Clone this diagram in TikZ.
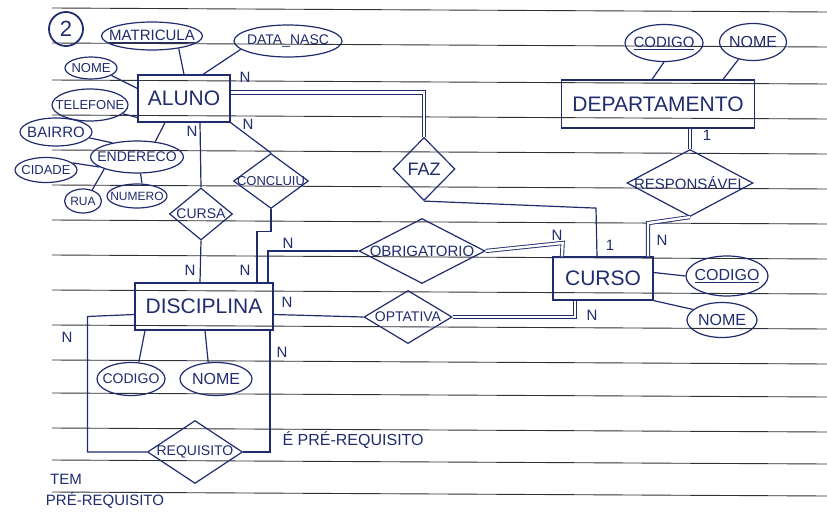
\documentclass[tikz,border=0pt]{standalone}
\usepackage{fontspec}
\setmainfont{Liberation Sans}
\usetikzlibrary{shapes.geometric}
\definecolor{ink}{RGB}{32,44,110}
\definecolor{ruleln}{RGB}{50,50,58}
\newcommand\hsz[1]{\fontsize{#1}{#1}\selectfont}
\begin{document}
\begin{tikzpicture}[x=1pt,y=-1pt,line width=1.2pt,ink,
  lab/.style={font=\hsz{#1},text=ink,inner sep=0pt},
  ent/.style={draw=ink,rectangle,inner sep=0pt,font=\hsz{21}},
  attr/.style={draw=ink,ellipse,inner sep=0pt},
  rel/.style={draw=ink,diamond,inner sep=0pt},
  card/.style={font=\hsz{15},text=ink,inner sep=0pt},
  dbl/.style={draw=ink,double=white,double distance=2.4pt,line width=0.9pt}]
\useasboundingbox (0,0) rectangle (827,519);
\fill[white] (0,0) rectangle (827,519);
% ruled paper
\foreach \yy in {8,43,80,115,150,185,220,255,290,325,360,393,428,460,492}
  \draw[ruleln,line width=0.9pt] (52,\yy) -- (827,\yy+4);

% exercise number
\node[draw=ink,circle,minimum size=34,line width=1.8pt,font=\hsz{22},inner sep=0pt] (num) at (66,29) {2};

% entities
\node[ent,minimum width=92,minimum height=47] (aluno) at (184,98.5) {ALUNO};
\node[ent,minimum width=138,minimum height=47] (disc) at (204,306.5) {DISCIPLINA};
\node[ent,minimum width=193,minimum height=48] (dep) at (658,104) {DEPARTAMENTO};
\node[ent,minimum width=100,minimum height=43] (curso) at (603,278.5) {CURSO};

% attributes
\node[attr,minimum width=101,minimum height=28,label={[lab=15]center:\underline{MATRICULA}}] (matricula) at (152,36) {};
\node[attr,minimum width=108,minimum height=32,label={[lab=14]center:DATA\_NASC}] (datanasc) at (288,41) {};
\node[attr,minimum width=52,minimum height=22,label={[lab=13]center:NOME}] (nomeA) at (91,68) {};
\node[attr,minimum width=76,minimum height=32,label={[lab=13]center:TELEFONE}] (telefone) at (90,105) {};
\node[attr,minimum width=72,minimum height=28,label={[lab=15]center:BAIRRO}] (bairro) at (56,132) {};
\node[attr,minimum width=93,minimum height=32,label={[lab=14]center:ENDERECO}] (endereco) at (137,157) {};
\node[attr,minimum width=62,minimum height=25,label={[lab=13]center:CIDADE}] (cidade) at (46,170) {};
\node[attr,minimum width=37,minimum height=24,label={[lab=12]center:RUA}] (rua) at (83,201) {};
\node[attr,minimum width=60,minimum height=24,label={[lab=12]center:NUMERO}] (numero) at (137,196) {};
\node[attr,minimum width=68,minimum height=33,label={[lab=14]center:CODIGO}] (codD) at (131,379) {};
\node[attr,minimum width=72,minimum height=33,label={[lab=16]center:NOME}] (nomeD) at (216,379) {};
\node[attr,minimum width=78,minimum height=37,label={[lab=15]center:\underline{CODIGO}}] (codDep) at (664,43) {};
\node[attr,minimum width=67,minimum height=37,label={[lab=16]center:NOME}] (nomeDep) at (753,42) {};
\node[attr,minimum width=82,minimum height=40,label={[lab=16]center:\underline{CODIGO}}] (codC) at (727,276) {};
\node[attr,minimum width=70,minimum height=35,label={[lab=16]center:NOME}] (nomeC) at (722,320) {};

% relationships
\node[rel,minimum width=63,minimum height=52,label={[lab=14]center:CURSA}] (cursa) at (201,214) {};
\node[rel,minimum width=75,minimum height=55,label={[lab=13]center:CONCLUIU}] (concluiu) at (271,181) {};
\node[rel,minimum width=62,minimum height=63,label={[lab=18]center:FAZ}] (faz) at (424,169) {};
\node[rel,minimum width=126,minimum height=67,label={[lab=15]center:RESPONSÁVEL}] (respons) at (690,183) {};
\node[rel,minimum width=126,minimum height=65,label={[lab=15]center:OBRIGATORIO}] (obrig) at (422,251) {};
\node[rel,minimum width=88,minimum height=53,label={[lab=14]center:OPTATIVA}] (optativa) at (408,317) {};
\node[rel,minimum width=95,minimum height=63,label={[lab=14]center:REQUISITO}] (requisito) at (195,452) {};

% attribute links
\draw (matricula.-25) -- (aluno.north);
\draw (datanasc.190) -- ([xshift=19pt]aluno.north);
\draw (nomeA.-20) -- ([yshift=10pt]aluno.west);
\draw (telefone.-15) -- ([yshift=-19pt]aluno.west);
\draw ([xshift=-19pt]aluno.south) -- (endereco.40);
\draw (bairro.-10) -- (endereco.150);
\draw (cidade.15) -- (endereco.195);
\draw (endereco.200) -- (rua.50);
\draw (endereco.-78) -- ([xshift=5pt]numero.north);
\draw ([xshift=-59pt]disc.south) -- (codD.65);
\draw ([xshift=1pt]disc.south) -- (nomeD.115);
\draw (codDep.south) -- ([xshift=-6pt]dep.north);
\draw (nomeDep.-130) -- ([xshift=65pt]dep.north);
\draw ([yshift=6pt]curso.east) -- (codC.west);
\draw (curso.south east) -- (nomeC.160);

% relationship links
\draw[dbl] ([yshift=6pt]aluno.east) -| (faz.north);
\draw (faz.south) -- ++(172,7) -- ([xshift=-6pt]curso.north);
\draw ([xshift=16pt]aluno.south) -- (cursa.north);
\draw (cursa.south) -- ([xshift=-4pt]disc.north);
\draw (aluno.south east) -- (concluiu.north);
\draw (concluiu.south) -- ++(0,22) -| ([xshift=53pt]disc.north);
\draw (obrig.west) -| ([xshift=64pt]disc.north);
\draw[dbl] (obrig.east) -- ++(77,-8) -- ([xshift=-41pt]curso.north);
\draw ([yshift=-8pt]disc.east) -- (optativa.west);
\draw[dbl] (optativa.east) -| ([xshift=-28pt]curso.south);
\draw[dbl] ([xshift=32pt]dep.south) -- (respons.north);
\draw[dbl] (respons.south) -- ++(-42,6) -- ([xshift=45pt]curso.north);
\draw ([yshift=-8pt]disc.west) -- ++(-47,2) |- (requisito.west);
\draw ([xshift=66pt]disc.south) |- (requisito.east);

% cardinalities
\node[card] (c1) at (245,77) {N};
\node[card] (c2) at (192,131) {N};
\node[card] (c3) at (248,124) {N};
\node[card] (c4) at (190,270) {N};
\node[card] (c5) at (245,270) {N};
\node[card] (c6) at (288,243) {N};
\node[card] (c7) at (287,302) {N};
\node[card] (c8) at (282,352) {N};
\node[card] (c9) at (67,337) {N};
\node[card] (c10) at (557,235) {N};
\node[card] (c11) at (610,245) {1};
\node[card] (c12) at (662,240) {N};
\node[card] (c13) at (707,135) {1};
\node[card] (c14) at (592,315) {N};

% role texts
\node[lab=16,anchor=west] (epre) at (282,440) {É PRÉ-REQUISITO};
\node[lab=15] (tem) at (66,479) {TEM};
\node[lab=15] (tempre) at (105,500) {PRÉ-REQUISITO};
\end{tikzpicture}
\end{document}
